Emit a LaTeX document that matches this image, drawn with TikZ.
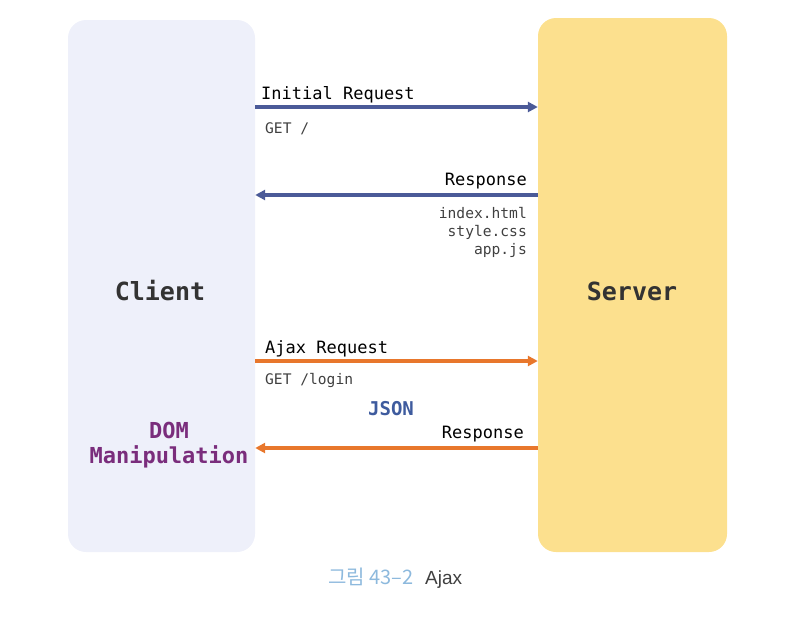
\documentclass[tikz,border=0pt]{standalone}
\usepackage{fontspec}
\setmonofont{DejaVu Sans Mono}
\setsansfont{Liberation Sans}
\newfontfamily\krfont{Noto Sans CJK KR}
\usetikzlibrary{arrows.meta}

\definecolor{clientbg}{HTML}{EEF0FA}
\definecolor{serverbg}{HTML}{FCE08E}
\definecolor{reqblue}{HTML}{4B5A98}
\definecolor{ajaxorange}{HTML}{E8772C}
\definecolor{dompurple}{HTML}{7A2D7C}
\definecolor{jsonblue}{HTML}{3E5B9E}
\definecolor{capblue}{HTML}{8DB9DD}

\begin{document}
\begin{tikzpicture}[x=1pt,y=-1pt,
    box/.style={rounded corners=18pt, inner sep=0pt},
    txt/.style={inner sep=0pt, font=\ttfamily\fontsize{17}{19}\selectfont},
    small/.style={inner sep=0pt, font=\ttfamily\fontsize{14.6}{18}\selectfont, text=black!75},
    title/.style={inner sep=0pt, font=\ttfamily\bfseries\fontsize{25}{28}\selectfont, text=black!80},
    msg/.style={line width=3.4pt, -{Triangle[length=10pt,width=10pt]}}]
  \useasboundingbox (0,0) rectangle (808,619);

  \node[box, fill=clientbg, minimum width=187pt, minimum height=532pt] (client) at (161.5,286) {};
  \node[box, fill=serverbg, minimum width=189pt, minimum height=534pt] (server) at (632.5,285) {};

  \node[title, anchor=base] (clientlbl) at (160,300) {Client};
  \node[title, anchor=base] (serverlbl) at (632,300) {Server};

  % first request and its response
  \coordinate (c1) at (client.east |- 0,107);
  \coordinate (s1) at (server.west |- 0,107);
  \coordinate (c2) at (client.east |- 0,195);
  \coordinate (s2) at (server.west |- 0,195);
  \draw[msg, reqblue] (c1) -- (s1);
  \draw[msg, reqblue] (s2) -- (c2);
  \node[txt, anchor=base west] (initreq) at (261,99) {Initial Request};
  \node[small, anchor=base west] (get) at (265,133) {GET /};
  \node[txt, anchor=base east] (resp1) at (527,185) {Response};
  \node[small, anchor=base east] (html) at (527,218) {index.html};
  \node[small, anchor=base east] (css) at (527,236) {style.css};
  \node[small, anchor=base east] (js) at (527,254) {app.js};

  % ajax request and its response
  \coordinate (c3) at (client.east |- 0,361);
  \coordinate (s3) at (server.west |- 0,361);
  \coordinate (c4) at (client.east |- 0,448);
  \coordinate (s4) at (server.west |- 0,448);
  \draw[msg, ajaxorange] (c3) -- (s3);
  \draw[msg, ajaxorange] (s4) -- (c4);
  \node[txt, anchor=base west] (ajaxreq) at (265,353) {Ajax Request};
  \node[small, anchor=base west] (getlogin) at (265,384) {GET /login};
  \node[inner sep=0pt, font=\ttfamily\bfseries\fontsize{19}{21}\selectfont, text=jsonblue, anchor=base] (json) at (391,415) {JSON};
  \node[txt, anchor=base east] (resp2) at (524,438) {Response};
  \node[inner sep=0pt, font=\ttfamily\bfseries\fontsize{22}{25}\selectfont, text=dompurple, anchor=base] (dom) at (169,438) {DOM};
  \node[inner sep=0pt, font=\ttfamily\bfseries\fontsize{22}{25}\selectfont, text=dompurple, anchor=base] (manip) at (169,463) {Manipulation};

  % caption
  \node[inner sep=0pt, anchor=base west, font=\krfont\fontsize{20}{22}\selectfont, text=capblue] (capnum) at (328,584) {그림 43–2};
  \node[inner sep=0pt, anchor=base west, font=\sffamily\fontsize{19}{21}\selectfont, text=black!75] (capname) at (425,584) {Ajax};
\end{tikzpicture}
\end{document}
